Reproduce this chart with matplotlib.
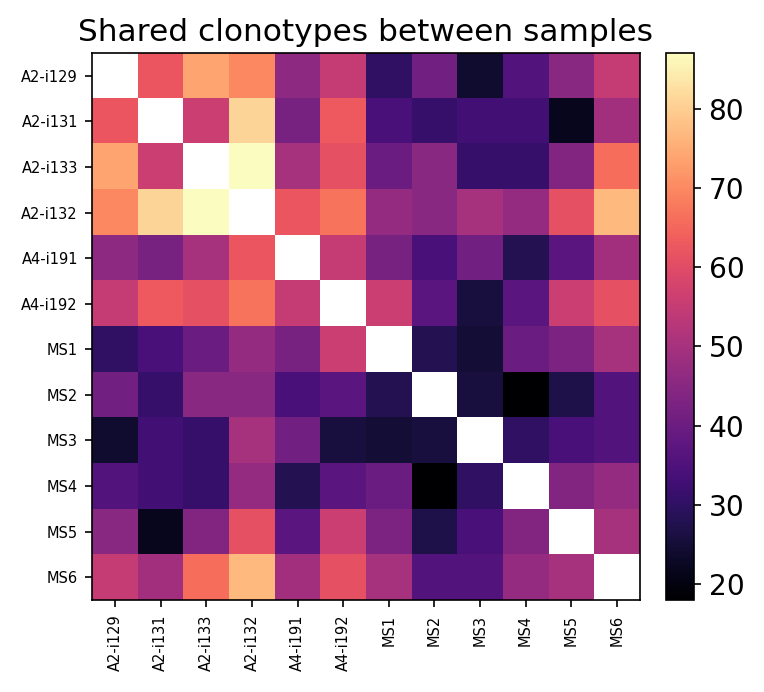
import numpy as np
import matplotlib
matplotlib.use("Agg")
import matplotlib.pyplot as plt

samples = ["A2-i129", "A2-i131", "A2-i133", "A2-i132", "A4-i191", "A4-i192",
           "MS1", "MS2", "MS3", "MS4", "MS5", "MS6"]

# lower-triangle values (row i, cols 0..i-1), symmetric matrix
row_A2_i131 = [62]
row_A2_i133 = [74, 56]
row_A2_i132 = [70, 81, 87]
row_A4_i191 = [46, 42, 50, 62]
row_A4_i192 = [55, 63, 61, 67, 55]
row_MS1 = [30, 34, 40, 47, 42, 56]
row_MS2 = [41, 31, 45, 45, 34, 37, 28]
row_MS3 = [24, 33, 31, 50, 41, 26, 25, 26]
row_MS4 = [36, 33, 31, 47, 28, 37, 40, 18, 30]
row_MS5 = [45, 22, 44, 61, 37, 56, 43, 27, 34, 44]
row_MS6 = [55, 49, 66, 77, 49, 61, 50, 36, 36, 47, 50]

lower_rows = [[], row_A2_i131, row_A2_i133, row_A2_i132, row_A4_i191, row_A4_i192,
              row_MS1, row_MS2, row_MS3, row_MS4, row_MS5, row_MS6]

n = len(samples)
mat = np.full((n, n), np.nan)
for i, r in enumerate(lower_rows):
    for j, v in enumerate(r):
        mat[i, j] = v
        mat[j, i] = v

fig = plt.figure(figsize=(764 / 150, 692 / 150), dpi=150)
ax = fig.add_axes([0.1204, 0.1329, 0.7173, 0.7905])
im = ax.imshow(mat, cmap="magma", vmin=18, vmax=87, aspect="equal")
ax.set_xticks(range(n))
ax.set_yticks(range(n))
ax.set_xticklabels(samples, rotation=90, fontsize=7)
ax.set_yticklabels(samples, fontsize=7)
ax.set_title("Shared clonotypes between samples", fontsize=15)

cax = fig.add_axes([0.8717, 0.1329, 0.0367, 0.7905])
cb = fig.colorbar(im, cax=cax)
cb.ax.tick_params(labelsize=13.5)

fig.savefig("out.png", dpi=150)
